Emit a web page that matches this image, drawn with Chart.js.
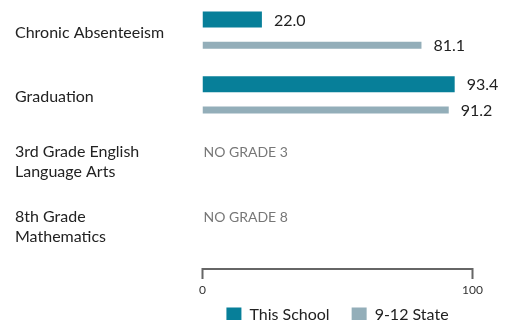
<!DOCTYPE html>
<html><head><meta charset="utf-8">
<script src="https://cdn.jsdelivr.net/npm/chart.js@4"></script>
<style>html,body{margin:0;padding:0;overflow:hidden;background:#fff}#wrap{width:507px;height:333px;position:relative}</style>
</head><body><div id="wrap"><canvas id="c" width="507" height="333"></canvas></div>
<script>
const categories = [['Chronic Absenteeism'], ['Graduation'], ['3rd Grade English', 'Language Arts'], ['8th Grade', 'Mathematics']];
const seriesNames = ['This School', '9-12 State'];
const schoolValues = [22.0, 93.4, null, null];
const stateValues = [81.1, 91.2, null, null];
const missingNotes = [null, null, 'NO GRADE 3', 'NO GRADE 8'];
const xTicks = [0, 100];

Chart.defaults.font.family = 'Lato';

const valueLabels = {
  id: 'valueLabels',
  afterDatasetsDraw(chart) {
    const ctx = chart.ctx;
    ctx.save();
    ctx.font = '16px Lato';
    ctx.fillStyle = '#222';
    ctx.textAlign = 'left';
    ctx.textBaseline = 'middle';
    chart.data.datasets.forEach((ds, i) => {
      const meta = chart.getDatasetMeta(i);
      meta.data.forEach((el, j) => {
        const v = ds.data[j];
        if (v === null || v === undefined) return;
        ctx.fillText(v.toFixed(1), el.x + 12, el.y + 1);
      });
    });
    const xs = chart.scales.x, ys = chart.scales.y;
    ctx.font = '14px Lato';
    ctx.fillStyle = '#777';
    missingNotes.forEach((n, j) => {
      if (!n) return;
      ctx.fillText(n, xs.getPixelForValue(0) + 1, ys.getPixelForValue(j) - 9);
    });
    ctx.restore();
  }
};

const axisBracket = {
  id: 'axisBracket',
  afterDraw(chart) {
    const xs = chart.scales.x;
    const ctx = chart.ctx;
    const x0 = xs.getPixelForValue(xTicks[0]);
    const x1 = xs.getPixelForValue(xTicks[xTicks.length - 1]);
    const y = xs.top + 10;
    ctx.save();
    ctx.strokeStyle = '#666';
    ctx.lineWidth = 2;
    ctx.beginPath();
    ctx.moveTo(x0, y + 10);
    ctx.lineTo(x0, y);
    ctx.lineTo(x1, y);
    ctx.lineTo(x1, y + 10);
    ctx.stroke();
    ctx.restore();
  }
};

new Chart(document.getElementById('c'), {
  type: 'bar',
  data: {
    labels: categories,
    datasets: [
      { label: seriesNames[0], data: schoolValues, backgroundColor: '#077f99', barPercentage: 0.62, categoryPercentage: 0.8 },
      { label: seriesNames[1], data: stateValues, backgroundColor: '#93aeb9', barPercentage: 0.27, categoryPercentage: 0.8 }
    ]
  },
  options: {
    indexAxis: 'y',
    responsive: false,
    animation: false,
    devicePixelRatio: 1,
    layout: { padding: { left: 15, right: 34.5, top: 0, bottom: 0 } },
    scales: {
      y: {
        grid: { display: false, drawTicks: false },
        border: { display: false },
        ticks: { crossAlign: 'far', color: '#222', padding: 0, font: { size: 16, lineHeight: 1.22 } },
        afterFit(s) { s.width = 187.5; s.paddingTop = 0; s.paddingBottom = 0; }
      },
      x: {
        min: 0, max: 100,
        grid: { display: false, drawTicks: false },
        border: { display: false },
        ticks: { color: '#333', padding: -38, mirror: true, font: { size: 12 } },
        afterBuildTicks(s) { s.ticks = xTicks.map(v => ({ value: v })); },
        afterFit(s) { s.height = 26; s.paddingLeft = 0; s.paddingRight = 0; }
      }
    },
    plugins: {
      tooltip: { enabled: false },
      legend: {
        position: 'bottom',
        fullSize: false,
        labels: { boxWidth: 15, boxHeight: 15, padding: 22, color: '#222', font: { size: 16 } }
      }
    }
  },
  plugins: [valueLabels, axisBracket]
});
</script></body></html>
